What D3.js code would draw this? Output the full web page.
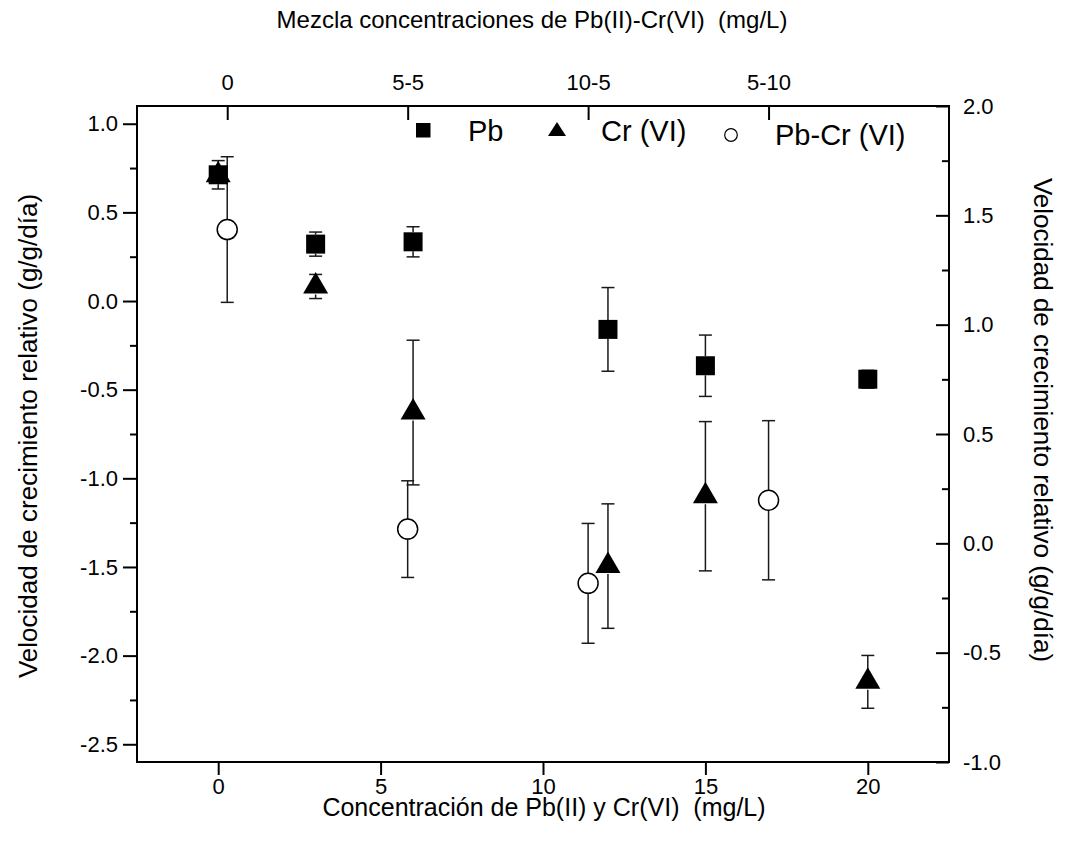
<!DOCTYPE html>
<html>
<head>
<meta charset="utf-8">
<script src="https://cdn.jsdelivr.net/npm/d3@7"></script>
<style>
body { margin: 0; background: #fff; }
svg { font-family: "Liberation Sans", Arial, Helvetica, sans-serif; }
</style>
</head>
<body>
<svg width="1065" height="856"></svg>
<script>
// concentracion individual (mg/L)
var concX = [0, 3, 6, 12, 15, 20];
var pbValues = [0.712, 0.321, 0.334, -0.160, -0.365, -0.441];
var pbErrors = [0.080, 0.068, 0.085, 0.236, 0.173, 0.050];
var crValues = [0.710, 0.082, -0.629, -1.495, -1.101, -2.148];
var crErrors = [0.040, 0.068, 0.408, 0.351, 0.421, 0.149];
// mezcla Pb-Cr (eje derecho / eje superior)
var mixLabels = ["0", "5-5", "10-5", "5-10"];
var mixValues = [1.435, 0.065, -0.183, 0.197];
var mixErrors = [0.333, 0.221, 0.274, 0.364];
var xTicks = [0, 5, 10, 15, 20];

var svg = d3.select("svg");
var pLeft = 137, pRight = 949, pTop = 106, pBottom = 762;

var x = d3.scaleLinear().domain([-2.5, 22.5]).range([pLeft, pRight]);
var xTop = d3.scaleLinear().domain([-0.5, 4]).range([pLeft, pRight]);
var yL = d3.scaleLinear().domain([-2.6, 1.1]).range([pBottom, pTop]);
var yR = d3.scaleLinear().domain([-1, 2]).range([pBottom, pTop]);

var fmt = function(d){ return d.toFixed(1); };

function styleAxis(g, size){
    g.select(".domain").remove();
    g.selectAll("line").attr("stroke", "#000").attr("stroke-width", 2);
    g.selectAll("text").attr("font-size", size).attr("fill", "#000")
	.attr("font-family", "Liberation Sans, Arial, sans-serif");
}

// eje izquierdo
svg.append("g").attr("transform", "translate(" + pLeft + ",0)")
    .call(d3.axisLeft(yL).tickValues(d3.range(-2.5, 1.01, 0.5)).tickFormat(fmt).tickSize(14).tickPadding(5))
    .call(styleAxis, 22);
svg.append("g").attr("transform", "translate(" + pLeft + ",0)")
    .call(d3.axisLeft(yL).tickValues(d3.range(-2.25, 1.01, 0.5)).tickFormat("").tickSize(7))
    .call(styleAxis, 22);

// eje derecho (ticks hacia adentro)
svg.append("g").attr("transform", "translate(" + pRight + ",0)")
    .call(d3.axisRight(yR).tickValues(d3.range(-1, 2.01, 0.5)).tickFormat(fmt).tickSize(-13).tickPadding(14))
    .call(styleAxis, 22);
svg.append("g").attr("transform", "translate(" + pRight + ",0)")
    .call(d3.axisRight(yR).tickValues(d3.range(-0.75, 2, 0.5)).tickFormat("").tickSize(-7))
    .call(styleAxis, 22);

// eje inferior
svg.append("g").attr("transform", "translate(0," + pBottom + ")")
    .call(d3.axisBottom(x).tickValues(xTicks).tickSize(13).tickPadding(3))
    .call(styleAxis, 22);

// eje superior (mezclas)
svg.append("g").attr("transform", "translate(0," + pTop + ")")
    .call(d3.axisTop(xTop).tickValues(d3.range(mixLabels.length)).tickFormat(function(i){ return mixLabels[i]; })
	  .tickSize(-14).tickPadding(16))
    .call(styleAxis, 22);

// marco
svg.append("rect").attr("x", pLeft).attr("y", pTop)
    .attr("width", pRight - pLeft).attr("height", pBottom - pTop)
    .attr("fill", "none").attr("stroke", "#000").attr("stroke-width", 2);

// barras de error
function errorBars(g, xs, vals, errs, xs_scale, ys, gap){
    var d = vals.map(function(v, i){ return {x: xs_scale(xs[i]), y: ys(v), hi: ys(v + errs[i]), lo: ys(v - errs[i])}; });
    var eb = g.append("g").attr("stroke", "#1a1a1a").attr("stroke-width", 1.5);
    d.forEach(function(p){
	if (p.y - gap > p.hi) eb.append("line").attr("x1", p.x).attr("x2", p.x).attr("y1", p.hi).attr("y2", p.y - gap);
	if (p.y + gap < p.lo) eb.append("line").attr("x1", p.x).attr("x2", p.x).attr("y1", p.y + gap).attr("y2", p.lo);
	eb.append("line").attr("x1", p.x - 6.5).attr("x2", p.x + 6.5).attr("y1", p.hi).attr("y2", p.hi);
	eb.append("line").attr("x1", p.x - 6.5).attr("x2", p.x + 6.5).attr("y1", p.lo).attr("y2", p.lo);
    });
}

var plot = svg.append("g");
var mixIdx = d3.range(mixLabels.length);

errorBars(plot, concX, pbValues, pbErrors, x, yL, 9.5);
errorBars(plot, concX, crValues, crErrors, x, yL, 8);
errorBars(plot, mixIdx, mixValues, mixErrors, xTop, yR, 10);

// Pb: cuadrados
plot.selectAll("rect.pb").data(concX).enter().append("rect")
    .attr("class", "pb")
    .attr("x", (d, i) => x(d) - 9.5)
    .attr("y", (d, i) => yL(pbValues[i]) - 9.5)
    .attr("width", 19).attr("height", 19)
    .attr("fill", "#000");

// Cr (VI): triangulos
var tri = "M0,-14.5L12.5,7L-12.5,7Z";
plot.selectAll("path.cr").data(concX).enter().append("path")
    .attr("class", "cr")
    .attr("d", tri)
    .attr("transform", (d, i) => "translate(" + x(d) + "," + yL(crValues[i]) + ")")
    .attr("fill", "#000");

// Pb-Cr (VI): circulos
plot.selectAll("circle.mix").data(mixIdx).enter().append("circle")
    .attr("class", "mix")
    .attr("cx", d => xTop(d))
    .attr("cy", d => yR(mixValues[d]))
    .attr("r", 10)
    .attr("fill", "#fff").attr("stroke", "#000").attr("stroke-width", 1.5);

// leyenda
var leg = svg.append("g").attr("font-size", 29);
leg.append("rect").attr("x", 416).attr("y", 123).attr("width", 14.5).attr("height", 14.5).attr("fill", "#000");
leg.append("text").attr("x", 468).attr("y", 141).text("Pb");
leg.append("path").attr("d", "M557,122L566,136L548,136Z").attr("fill", "#000");
leg.append("text").attr("x", 601).attr("y", 141).text("Cr (VI)");
leg.append("circle").attr("cx", 731).attr("cy", 135).attr("r", 6.3)
    .attr("fill", "#fff").attr("stroke", "#000").attr("stroke-width", 1.2);
leg.append("text").attr("x", 775).attr("y", 145).text("Pb-Cr (VI)");

// titulos de ejes
svg.append("text").attr("x", 532).attr("y", 28).attr("text-anchor", "middle")
    .attr("font-size", 24).style("white-space", "pre")
    .text("Mezcla concentraciones de Pb(II)-Cr(VI)  (mg/L)");
svg.append("text").attr("x", 544).attr("y", 816).attr("text-anchor", "middle")
    .attr("font-size", 25).style("white-space", "pre")
    .text("Concentración de Pb(II) y Cr(VI)  (mg/L)");
svg.append("text").attr("transform", "translate(37,436) rotate(-90)")
    .attr("text-anchor", "middle").attr("font-size", 26)
    .text("Velocidad de crecimiento relativo (g/g/día)");
svg.append("text").attr("transform", "translate(1034,420) rotate(90)")
    .attr("text-anchor", "middle").attr("font-size", 26)
    .text("Velocidad de crecimiento relativo (g/g/día)");
</script>
</body>
</html>
